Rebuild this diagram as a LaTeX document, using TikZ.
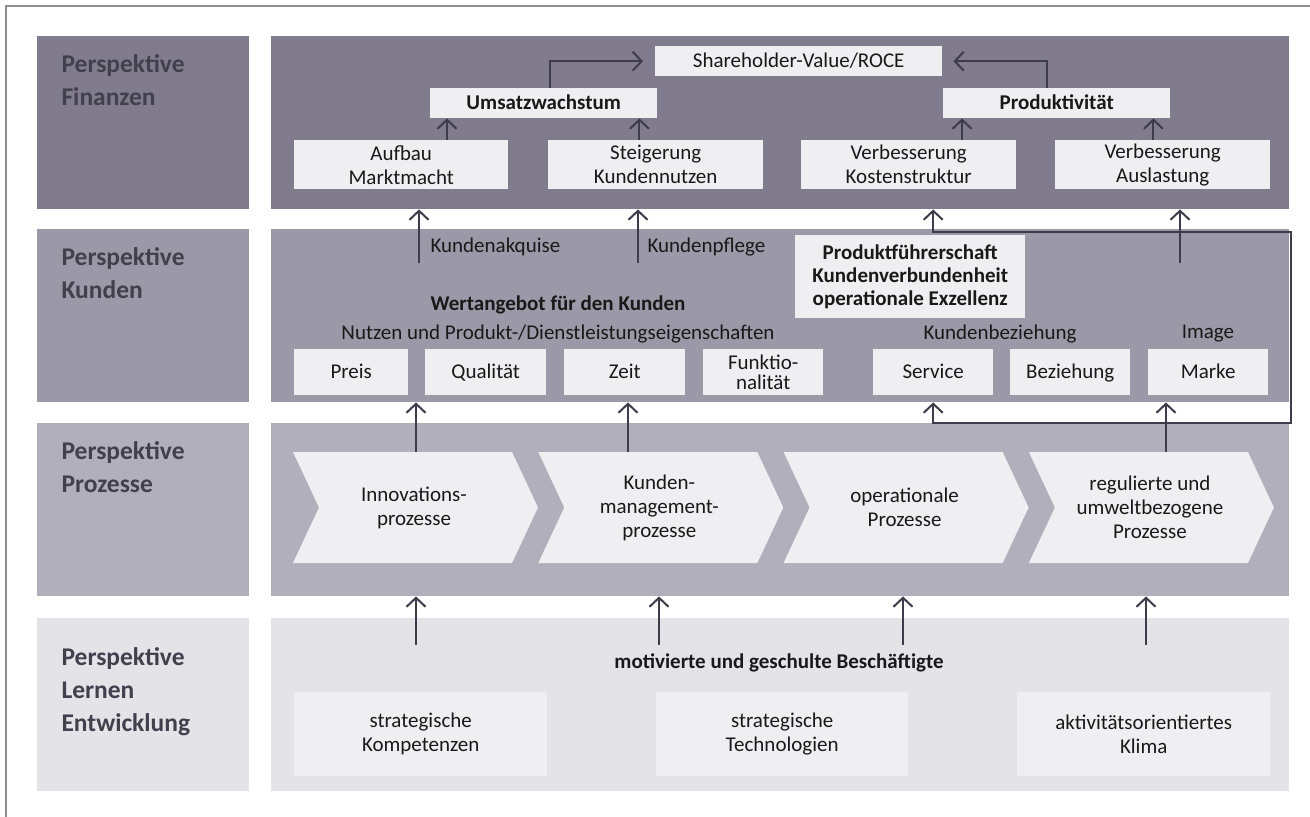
\documentclass[tikz,border=0pt]{standalone}
\usepackage{fontspec}
\setmainfont{Carlito}
\usetikzlibrary{arrows.meta,calc}

\definecolor{finc}{HTML}{807C8D}
\definecolor{kunc}{HTML}{9B98A7}
\definecolor{proc}{HTML}{B2AFBD}
\definecolor{lerc}{HTML}{E4E3E8}
\definecolor{boxc}{HTML}{EFEFF1}
\definecolor{arrc}{HTML}{3E3B4A}
\definecolor{labc}{HTML}{43404D}
\definecolor{framec}{HTML}{8E8E8E}

\begin{document}
\begin{tikzpicture}[x=1pt,y=-1pt,
  panel/.style={inner sep=0,anchor=north west,minimum height=173pt},
  wbox/.style={fill=boxc,inner sep=0,anchor=north west,align=center,text=black!90,font=\fontsize{21}{24}\selectfont},
  sline/.style={text height=17pt,text depth=4pt},
  perslabel/.style={anchor=west,align=left,text=labc,font=\fontsize{25.5}{33}\selectfont\bfseries},
  txt/.style={align=center,text=black!90,font=\fontsize{21}{24}\selectfont},
  btxt/.style={align=center,text=black!90,font=\fontsize{21}{24}\selectfont\bfseries},
  barb/.tip={Straight Barb[length=9pt,width=19pt]},
  arr/.style={draw=arrc,line width=2pt,-barb}]
\useasboundingbox (0,0) rectangle (1310,817);
\draw[framec,line width=1.2pt] (6,817) -- (6,6) -- (1310,6);

% Panels and perspective labels
\node[panel,fill=finc,minimum width=212pt] (finl) at (37,36) {};
\node[panel,fill=kunc,minimum width=212pt] (kunl) at (37,229) {};
\node[panel,fill=proc,minimum width=212pt] (prol) at (37,423) {};
\node[panel,fill=lerc,minimum width=212pt] (lerl) at (37,618) {};
\node[panel,fill=finc,minimum width=1018pt] (finp) at (271,36) {};
\node[panel,fill=kunc,minimum width=1018pt] (kunp) at (271,229) {};
\node[panel,fill=proc,minimum width=1018pt] (prop) at (271,423) {};
\node[panel,fill=lerc,minimum width=1018pt] (lerp) at (271,618) {};
\node[perslabel] (fint) at (58,80) {Perspektive\\Finanzen};
\node[perslabel] (kunt) at (58,273) {Perspektive\\Kunden};
\node[perslabel] (prot) at (58,467) {Perspektive\\Prozesse};
\node[perslabel] (lert) at (58,692) {Perspektive\\Lernen\\Entwicklung};

% Finanzen
\node[wbox,sline,minimum width=287pt,minimum height=30pt] (share) at (655,46) {Shareholder-Value/ROCE};
\node[wbox,sline,minimum width=227pt,minimum height=30pt,font=\fontsize{21}{24}\selectfont\bfseries] (umsatz) at (430,88) {Umsatzwachstum};
\node[wbox,sline,minimum width=227pt,minimum height=30pt,font=\fontsize{21}{24}\selectfont\bfseries] (produkt) at (943,88) {Produktivität};
\node[wbox,minimum width=214pt,minimum height=49pt] (aufbau) at (294,140) {Aufbau\\Marktmacht};
\node[wbox,minimum width=215pt,minimum height=49pt] (steig) at (548,140) {Steigerung\\Kundennutzen};
\node[wbox,minimum width=215pt,minimum height=49pt] (kosten) at (801,140) {Verbesserung\\Kostenstruktur};
\node[wbox,minimum width=215pt,minimum height=49pt] (ausl) at (1055,140) {Verbesserung\\Auslastung};

\coordinate (u1) at ([xshift=17pt]umsatz.south west);
\coordinate (u2) at ([xshift=-18pt]umsatz.south east);
\coordinate (p1) at ([xshift=19pt]produkt.south west);
\coordinate (p2) at ([xshift=-17pt]produkt.south east);
\draw[arr] (u1 |- aufbau.north) -- (u1);
\draw[arr] (u2 |- steig.north) -- (u2);
\draw[arr] (p1 |- kosten.north) -- (p1);
\draw[arr] (p2 |- ausl.north) -- (p2);
\draw[arr] ([xshift=6pt]umsatz.north) |- ([xshift=-12pt]share.west);
\draw[arr] ([xshift=-10pt]produkt.north) |- ([xshift=11pt]share.east);

% Kunden
\node[txt,anchor=west] (akqt) at (427,247) {Kundenakquise};
\node[txt,anchor=west] (pflt) at (644,247) {Kundenpflege};
\node[wbox,minimum width=230pt,minimum height=83pt,font=\fontsize{21}{23}\selectfont\bfseries] (strat) at (795,235) {Produktführerschaft\\Kundenverbundenheit\\operationale Exzellenz};
\node[btxt] (wert) at (558,305) {Wertangebot für den Kunden};
\node[txt] (nutz) at (558,334) {Nutzen und Produkt-/Dienstleistungseigenschaften};
\node[txt] (kbez) at (1000,334) {Kundenbeziehung};
\node[txt] (img) at (1208,334) {Image};
\node[wbox,sline,minimum width=114pt,minimum height=46pt] (preis) at (294,349) {Preis};
\node[wbox,sline,minimum width=121pt,minimum height=46pt] (quali) at (425,349) {Qualität};
\node[wbox,sline,minimum width=121pt,minimum height=46pt] (zeit) at (564,349) {Zeit};
\node[wbox,minimum width=120pt,minimum height=46pt,font=\fontsize{21}{20}\selectfont] (funk) at (703,349) {Funktio-\\nalität};
\node[wbox,sline,minimum width=120pt,minimum height=46pt] (serv) at (873,349) {Service};
\node[wbox,sline,minimum width=120pt,minimum height=46pt] (bez) at (1010,349) {Beziehung};
\node[wbox,sline,minimum width=120pt,minimum height=46pt] (marke) at (1148,349) {Marke};

\coordinate (akq) at (419,263);
\coordinate (pfl) at (638,263);
\coordinate (aus) at (1180,263);
\draw[arr] (akq) -- (akq |- finp.south);
\draw[arr] (pfl) -- (pfl |- finp.south);
\draw[arr] (aus) -- (aus |- finp.south);
\coordinate (loopr) at (1291,232);
\draw[arr,barb-barb] (serv.south |- kunp.south) -- (serv.south |- prop.north) -| (loopr) -- (loopr -| serv.south) -- (serv.south |- finp.south);

% Prozesse
\foreach \i/\cx/\ct in {1/293/{Innovations-\\prozesse},2/538.3/{Kunden-\\management-\\prozesse},3/783.6/{operationale\\Prozesse},4/1028.9/{regulierte und\\umweltbezogene\\Prozesse}}{
  \fill[boxc] (\cx,452) -- ++(219,0) -- ++(26,55.5) -- ++(-26,55.5) -- ++(-219,0) -- ++(26,-55.5) -- cycle;
  \node[txt] (c\i) at (\cx+121,507.5) {\ct};
}
\coordinate (pz1) at (416,452);
\coordinate (pz2) at (628,452);
\coordinate (pz4) at (1166,452);
\draw[arr] (pz1) -- (pz1 |- kunp.south);
\draw[arr] (pz2) -- (pz2 |- kunp.south);
\draw[arr] (pz4) -- (pz4 |- kunp.south);

% Lernen und Entwicklung
\node[btxt] (motiv) at (779,663) {motivierte und geschulte Beschäftigte};
\node[wbox,minimum width=253pt,minimum height=84pt] (komp) at (294,692) {strategische\\Kompetenzen};
\node[wbox,minimum width=252pt,minimum height=84pt] (tech) at (656,692) {strategische\\Technologien};
\node[wbox,minimum width=253pt,minimum height=84pt] (klima) at (1017,692) {aktivitätsorientiertes\\Klima};
\foreach \lx [count=\j] in {416,659,903,1146}{
  \coordinate (le\j) at (\lx,645);
  \draw[arr] (le\j) -- (le\j |- prop.south);
}
\end{tikzpicture}
\end{document}
